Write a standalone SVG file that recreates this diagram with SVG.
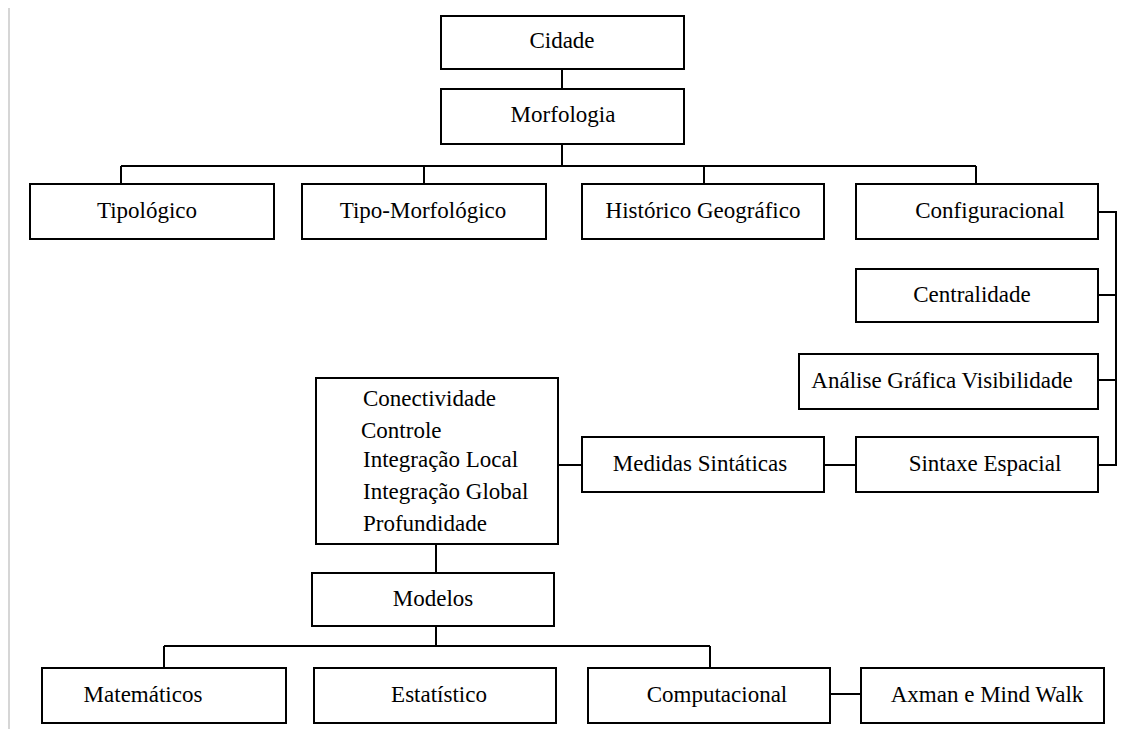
<svg xmlns="http://www.w3.org/2000/svg" width="1127" height="729" viewBox="0 0 1127 729">
<style>
.box{fill:#fff;stroke:#000;stroke-width:2}
.ln{fill:none;stroke:#000;stroke-width:2}
.c{text-anchor:middle}
</style>
<rect x="0" y="0" width="1127" height="729" fill="#fff"/>
<line x1="9" y1="8" x2="9" y2="729" stroke="#c8c8c8" stroke-width="1.5"/>
<g id="connectors">
<path class="ln" d="M562 69V89"/>
<path class="ln" d="M562 144V166M121 166H976M121 166V184M424 166V184M704 166V184M976 166V184"/>
<path class="ln" d="M1098 212H1116V465H1098M1098 295H1116M1098 380H1116"/>
<path class="ln" d="M824 465H856"/>
<path class="ln" d="M558 465H582"/>
<path class="ln" d="M436 544V573"/>
<path class="ln" d="M436 626V646M164 646H710M164 646V668M710 646V668"/>
<path class="ln" d="M830 694H861"/>
</g>
<g id="nodes" font-family="'Liberation Serif', 'Times New Roman', serif" font-size="23" fill="#000">
<g id="cidade"><rect class="box" x="441" y="16" width="243" height="53"/><text class="c" x="562" y="48">Cidade</text></g>
<g id="morfologia"><rect class="box" x="441" y="89" width="243" height="55"/><text class="c" x="563" y="122">Morfologia</text></g>
<g id="tipologico"><rect class="box" x="30" y="184" width="244" height="55"/><text class="c" x="147" y="218">Tipológico</text></g>
<g id="tipo-morfologico"><rect class="box" x="302" y="184" width="244" height="55"/><text class="c" x="423" y="218">Tipo-Morfológico</text></g>
<g id="historico-geografico"><rect class="box" x="582" y="184" width="242" height="55"/><text class="c" x="703" y="218">Histórico Geográfico</text></g>
<g id="configuracional"><rect class="box" x="856" y="184" width="242" height="55"/><text class="c" x="990" y="218">Configuracional</text></g>
<g id="centralidade"><rect class="box" x="856" y="269" width="242" height="53"/><text class="c" x="972" y="302">Centralidade</text></g>
<g id="analise-grafica-visibilidade"><rect class="box" x="799" y="354" width="299" height="55"/><text class="c" x="942" y="388">Análise Gráfica Visibilidade</text></g>
<g id="sintaxe-espacial"><rect class="box" x="856" y="437" width="242" height="55"/><text class="c" x="985" y="471">Sintaxe Espacial</text></g>
<g id="medidas-sintaticas"><rect class="box" x="582" y="437" width="242" height="55"/><text class="c" x="700" y="471">Medidas Sintáticas</text></g>
<g id="medidas-lista"><rect class="box" x="316" y="378" width="242" height="166"/>
<text x="363" y="406">Conectividade</text>
<text x="361" y="438">Controle</text>
<text x="363" y="467">Integração Local</text>
<text x="363" y="499">Integração Global</text>
<text x="363" y="531">Profundidade</text>
</g>
<g id="modelos"><rect class="box" x="312" y="573" width="242" height="53"/><text class="c" x="433" y="606">Modelos</text></g>
<g id="matematicos"><rect class="box" x="42" y="668" width="244" height="55"/><text class="c" x="143" y="702">Matemáticos</text></g>
<g id="estatistico"><rect class="box" x="314" y="668" width="242" height="55"/><text class="c" x="439" y="702">Estatístico</text></g>
<g id="computacional"><rect class="box" x="588" y="668" width="242" height="55"/><text class="c" x="717" y="702">Computacional</text></g>
<g id="axman-mind-walk"><rect class="box" x="861" y="668" width="243" height="55"/><text class="c" x="987" y="702">Axman e Mind Walk</text></g>
</g>
</svg>
